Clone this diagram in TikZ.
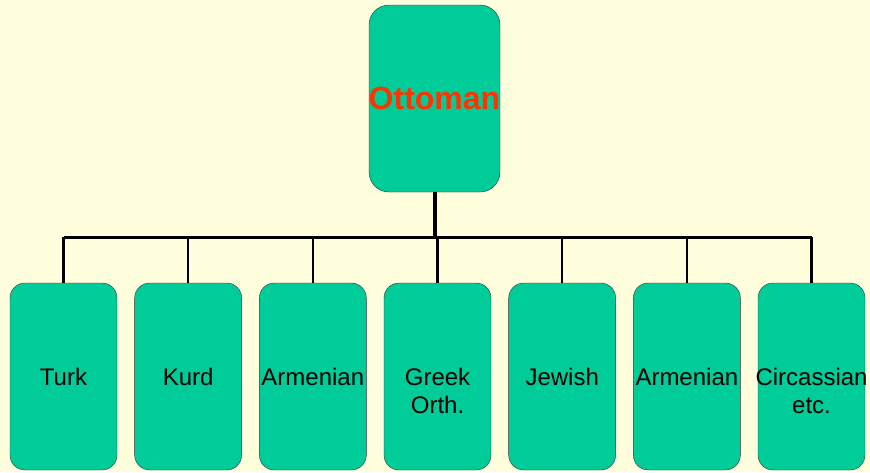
\documentclass[tikz,border=0pt]{standalone}
\usepackage{fontspec}
\setmainfont{Liberation Sans}
\definecolor{paper}{RGB}{255,255,221}
\definecolor{boxgreen}{RGB}{0,204,153}
\definecolor{titlered}{RGB}{255,51,0}
\newcommand{\twolines}[2]{\begin{tabular}[t]{@{}c@{}}#1\\#2\end{tabular}}
\tikzset{
	rootbox/.style={draw=black!80, fill=boxgreen, rounded corners=20pt, minimum width=131pt, minimum height=187pt, inner sep=0pt, inner xsep=-3pt, font=\fontsize{32}{34}\selectfont\bfseries, text=titlered},
	childbox/.style={draw=black!80, fill=boxgreen, rounded corners=15pt, minimum width=107pt, minimum height=187pt, inner sep=0pt, inner xsep=-3pt, text height=17pt, text depth=0pt, font=\fontsize{24}{28}\selectfont},
	link/.style={line width=2.5pt}
}
\begin{document}
\begin{tikzpicture}[x=1pt,y=-1pt]
		\fill[paper] (0,0) rectangle (870,472);
		\useasboundingbox (0,0) rectangle (870,472);
		
		\node[rootbox] (ottoman) at (434.5,98.5) {Ottoman};
		\coordinate (bus) at (0,237);
		
		\foreach \name [count=\i from 0] in {Turk,Kurd,Armenian,\twolines{Greek}{Orth.},Jewish,Armenian,\twolines{Circassian}{etc.}} {
			\node[childbox] (c\i) at (63.5+124.67*\i,376.5) {\name};
			\draw[link] (c\i.north) -- (c\i.north |- bus);
		}
		
		\draw[line width=3pt] (c0.north |- bus) -- (c6.north |- bus);
		\draw[line width=4pt] (ottoman.south) -- (ottoman.south |- bus);
	\end{tikzpicture}
\end{document}
